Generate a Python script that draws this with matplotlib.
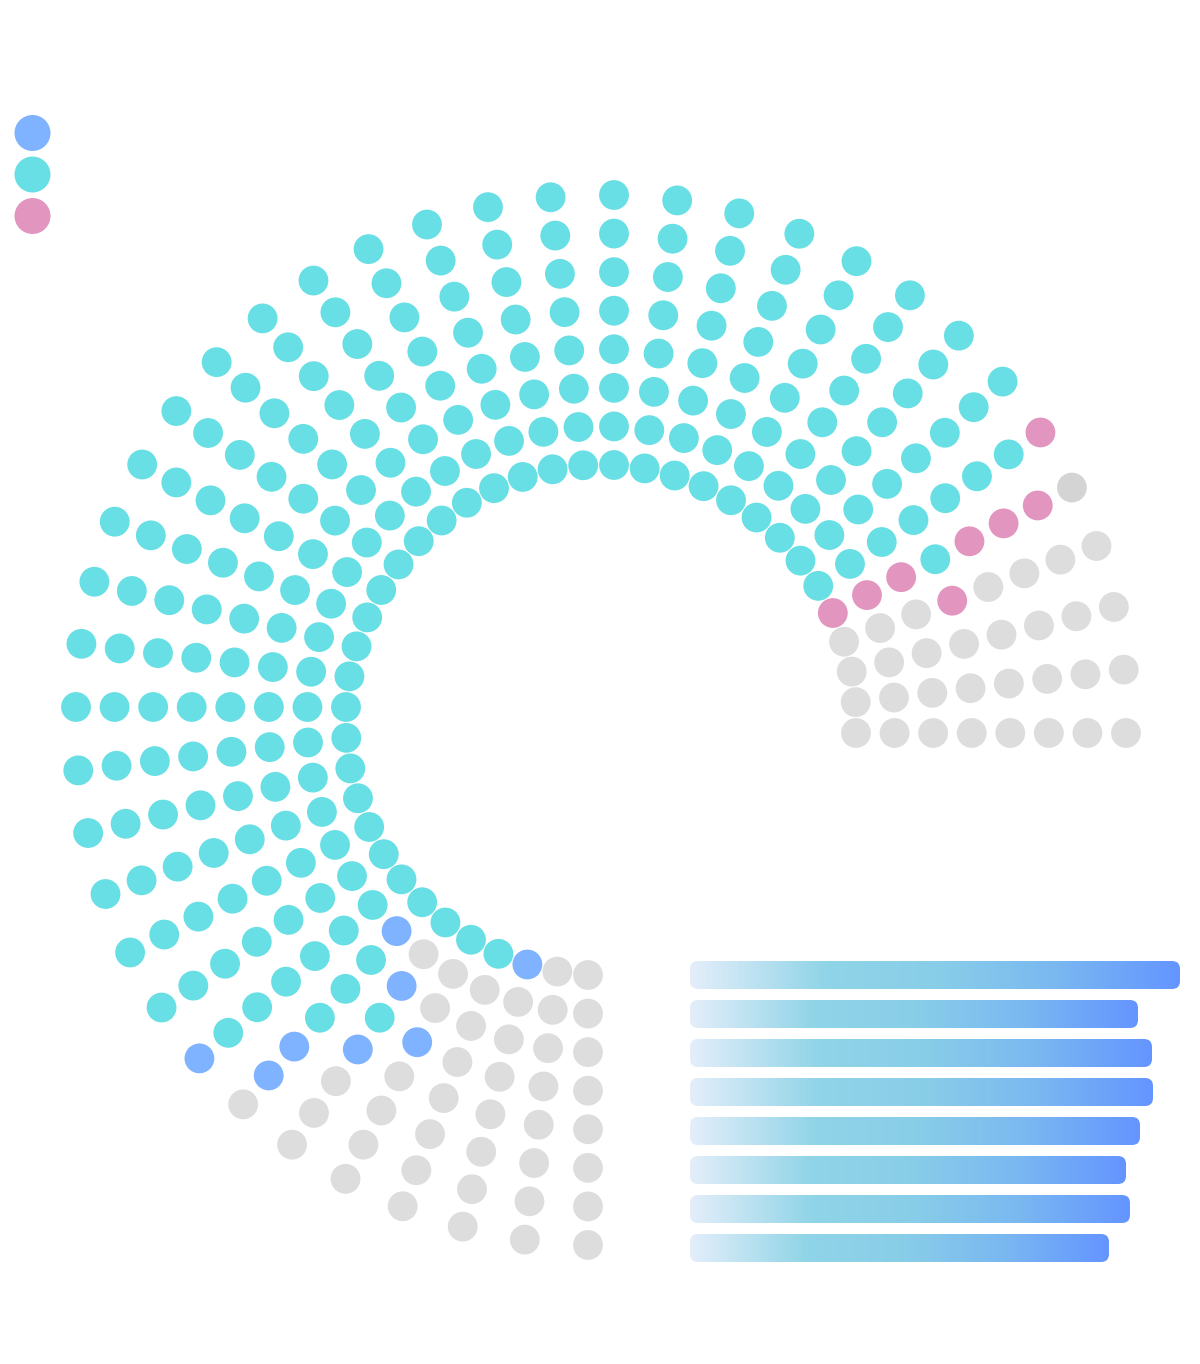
import numpy as np
import matplotlib
matplotlib.use("Agg")
import matplotlib.pyplot as plt
from matplotlib.patches import Circle, FancyBboxPatch
from matplotlib.colors import LinearSegmentedColormap

# ---- data: seats per ring (ring 0 = innermost), listed from the bottom end clockwise to the right end
empty_start = [2, 6, 5, 4, 5, 6, 6, 7]
party_blue = [1, 1, 1, 1, 1, 1, 1, 1]
party_cyan = [32, 28, 29, 31, 29, 28, 28, 26]
party_pink = [1, 1, 1, 1, 1, 1, 1, 1]
party_other = [0, 0, 0, 0, 0, 0, 0, 1]
empty_end = [4, 4, 4, 3, 4, 4, 4, 4]

# bar values (one per ring)
bar_values = [49.0, 44.8, 46.2, 46.3, 45.0, 43.6, 44.0, 41.9]

legend_colors = ["#7fb2ff", "#67dfe4", "#e195bf"]

COL = {"empty": "#dddddd", "blue": "#7fb2ff", "cyan": "#67dfe4",
       "pink": "#e195bf", "other": "#d4d4d4"}

W, H = 1200, 1364
fig = plt.figure(figsize=(W / 100, H / 100), dpi=100)
ax = fig.add_axes([0, 0, 1, 1])
ax.set_xlim(0, W)
ax.set_ylim(H, 0)
ax.set_aspect("equal")
ax.axis("off")

cx, cy = 601, 720
r0, dr = 255, 38.57
n_rings = len(party_cyan)
dot_r = 14.9
offset = 13

for ring in range(n_rings):
    seq = (["empty"] * empty_start[ring] + ["blue"] * party_blue[ring] +
           ["cyan"] * party_cyan[ring] + ["pink"] * party_pink[ring] +
           ["other"] * party_other[ring] + ["empty"] * empty_end[ring])
    n = len(seq)
    r = r0 + dr * ring
    for j, cat in enumerate(seq):
        k = n - 1 - j
        th = np.deg2rad(k * 270.0 / (n - 1))
        x = cx + r * np.cos(th) + offset * np.sin(th)
        y = cy - r * np.sin(th) + offset * np.cos(th)
        ax.add_patch(Circle((x, y), dot_r, facecolor=COL[cat], edgecolor="none"))

# legend dots
for i, c in enumerate(legend_colors):
    ax.add_patch(Circle((32.5, 133 + 41.5 * i), 18, facecolor=c, edgecolor="none"))

# gradient bars
cmap = LinearSegmentedColormap.from_list(
    "g", [(0.0, "#e4eefa"), (0.28, "#8fd4e7"), (0.5, "#89cee8"),
          (0.75, "#7ab8f1"), (1.0, "#6495ff")])
grad = np.linspace(0, 1, 256).reshape(1, -1)
bx0, bh, scale = 690, 28, 10.0
by0, bstep = 975, 39
for i, v in enumerate(bar_values):
    yc = by0 + bstep * i
    length = v * scale
    patch = FancyBboxPatch((bx0, yc - bh / 2), length, bh,
                           boxstyle="round,pad=0,rounding_size=8",
                           facecolor="none", edgecolor="none")
    ax.add_patch(patch)
    im = ax.imshow(grad, cmap=cmap, aspect="auto",
                   extent=(bx0, bx0 + length, yc + bh / 2, yc - bh / 2),
                   interpolation="bilinear")
    im.set_clip_path(patch)

ax.set_xlim(0, W)
ax.set_ylim(H, 0)
fig.savefig("out.png", dpi=100, facecolor="white")
